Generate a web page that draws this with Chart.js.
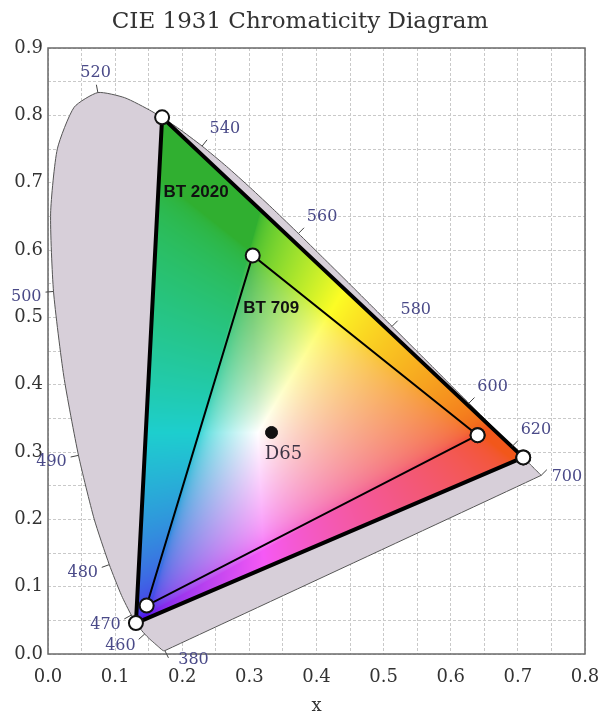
<!DOCTYPE html>
<html>
<head>
<meta charset="utf-8">
<script src="https://cdn.jsdelivr.net/npm/chart.js@4.4.1/dist/chart.umd.min.js"></script>
<style>
  html, body { margin: 0; padding: 0; background: #fff; }
  #wrap { width: 600px; height: 715px; }
</style>
</head>
<body>
<div id="wrap"><canvas id="myChart"></canvas></div>
<script>
// spectral locus, CIE 1931 (nm -> x, y)
const wavelengths = [380, 390, 400, 410, 420, 430, 440, 445, 450, 455, 460, 465, 470, 475, 480, 485, 490, 495, 500, 505, 510, 515, 520, 525, 530, 535, 540, 545, 550, 555, 560, 565, 570, 575, 580, 585, 590, 595, 600, 605, 610, 615, 620, 630, 640, 650, 660, 680, 700];
const locusX = [0.1741, 0.1738, 0.1733, 0.1726, 0.1714, 0.1689, 0.1644, 0.1611, 0.1566, 0.1510, 0.1440, 0.1355, 0.1241, 0.1096, 0.0913, 0.0687, 0.0454, 0.0235, 0.0082, 0.0039, 0.0139, 0.0389, 0.0743, 0.1142, 0.1547, 0.1929, 0.2296, 0.2658, 0.3016, 0.3373, 0.3731, 0.4087, 0.4441, 0.4788, 0.5125, 0.5448, 0.5752, 0.6029, 0.6270, 0.6482, 0.6658, 0.6801, 0.6915, 0.7079, 0.7190, 0.7260, 0.7300, 0.7334, 0.7347];
const locusY = [0.0050, 0.0049, 0.0048, 0.0048, 0.0051, 0.0069, 0.0109, 0.0138, 0.0177, 0.0227, 0.0297, 0.0399, 0.0578, 0.0868, 0.1327, 0.2007, 0.2950, 0.4127, 0.5384, 0.6548, 0.7502, 0.8120, 0.8338, 0.8262, 0.8059, 0.7816, 0.7543, 0.7243, 0.6923, 0.6589, 0.6245, 0.5896, 0.5547, 0.5202, 0.4866, 0.4544, 0.4242, 0.3965, 0.3725, 0.3514, 0.3340, 0.3197, 0.3083, 0.2920, 0.2809, 0.2740, 0.2700, 0.2666, 0.2653];
const labelledNm = [380, 460, 470, 480, 490, 500, 520, 540, 560, 580, 600, 620, 700];

// gamut triangles (R, G, B)
const bt2020X = [0.708, 0.170, 0.131];
const bt2020Y = [0.292, 0.797, 0.046];
const bt709X = [0.640, 0.305, 0.147];
const bt709Y = [0.325, 0.592, 0.072];
const d65 = { x: 0.333, y: 0.329 };

// text notes
const noteText = ['BT 2020', 'BT 709', 'D65'];
const noteX = [0.172, 0.291, 0.323];
const noteY = [0.685, 0.513, 0.297];

const serif = '"DejaVu Serif", serif';

function closed(xs, ys) {
  const pts = xs.map((v, i) => ({ x: v, y: ys[i] }));
  pts.push(pts[0]);
  return pts;
}

function xyToRgb(x, y) {
  const X = x / y, Z = (1 - x - y) / y;
  let r = Math.max(3.2406 * X - 1.5372 - 0.4986 * Z, 0);
  let g = Math.max(-0.9689 * X + 1.8758 + 0.0415 * Z, 0);
  let b = Math.max(0.0557 * X - 0.2040 + 1.0570 * Z, 0);
  const m = Math.max(r, g, b) || 1;
  const enc = c => c <= 0.0031308 ? 12.92 * c : 1.055 * Math.pow(c, 1 / 2.4) - 0.055;
  r = enc(r / m); g = enc(g / m); b = enc(b / m);
  // print-like look: reds lean orange, blues lean violet, greens/cyans duller
  g = g + 0.28 * r * (1 - g);
  r = r + 0.3 * b * (1 - r) * (1 - g);
  const gd = Math.max(0, g - Math.max(r, b));
  const f = (1 - 0.24 * gd) * (1 - 0.18 * (1 - r) * Math.min(g, b));
  r *= f; g *= f; b *= f;
  const lum = 0.3 * r + 0.59 * g + 0.11 * b;
  const ds = 0.1 + 0.2 * gd;
  return [r, g, b].map(c => {
    let v = c + (lum - c) * ds;
    v = v + (1 - v) * 0.06;
    return 255 * v;
  });
}

// colour fill of the BT 2020 triangle, drawn right after the grey locus
const gamutFill = {
  id: 'gamutFill',
  afterDatasetDraw(chart, args) {
    if (args.index !== 0) return;
    const xs = chart.scales.x, ys = chart.scales.y, a = chart.chartArea, ctx = chart.ctx;
    const w = Math.ceil(a.right - a.left), h = Math.ceil(a.bottom - a.top);
    const off = document.createElement('canvas');
    off.width = w; off.height = h;
    const octx = off.getContext('2d');
    const img = octx.createImageData(w, h);
    for (let py = 0; py < h; py++) {
      const y = ys.getValueForPixel(a.top + py + 0.5);
      if (y <= 0.002) continue;
      for (let px = 0; px < w; px++) {
        const x = xs.getValueForPixel(a.left + px + 0.5);
        const c = xyToRgb(x, y);
        const k = (py * w + px) * 4;
        img.data[k] = c[0]; img.data[k + 1] = c[1]; img.data[k + 2] = c[2]; img.data[k + 3] = 255;
      }
    }
    octx.putImageData(img, 0, 0);
    ctx.save();
    ctx.beginPath();
    bt2020X.forEach((v, i) => {
      const px = xs.getPixelForValue(v), py = ys.getPixelForValue(bt2020Y[i]);
      if (i === 0) ctx.moveTo(px, py); else ctx.lineTo(px, py);
    });
    ctx.closePath();
    ctx.clip();
    ctx.drawImage(off, a.left, a.top);
    ctx.restore();
  }
};

const frameBox = {
  id: 'frameBox',
  beforeDatasetsDraw(chart) {
    const a = chart.chartArea, ctx = chart.ctx;
    ctx.save();
    ctx.strokeStyle = '#6a6a6a';
    ctx.lineWidth = 1.5;
    ctx.strokeRect(a.left, a.top, a.right - a.left, a.bottom - a.top);
    ctx.restore();
  }
};

// wavelength ticks + labels, notes
const annotations = {
  id: 'annotations',
  afterDatasetsDraw(chart) {
    const xs = chart.scales.x, ys = chart.scales.y, ctx = chart.ctx;
    const n = wavelengths.length;
    const P = i => [xs.getPixelForValue(locusX[i]), ys.getPixelForValue(locusY[i])];
    ctx.save();
    ctx.font = '16px ' + serif;
    ctx.fillStyle = '#4a4a88';
    ctx.strokeStyle = '#444';
    ctx.lineWidth = 1;
    labelledNm.forEach(nm => {
      const i = wavelengths.indexOf(nm);
      const end = (i === 0 || i === n - 1);
      let a, b;
      if (i === 0) { a = P(0); b = P(4); }
      else if (i === n - 1) { a = P(n - 3); b = P(n - 1); }
      else { a = P(i - 1); b = P(i + 1); }
      let tx = b[0] - a[0], ty = b[1] - a[1];
      const len = Math.hypot(tx, ty) || 1;
      tx /= len; ty /= len;
      let nx = ty, ny = -tx;
      if (i === 0) { nx = 0.45; ny = 0.9; }
      const p = P(i);
      ctx.beginPath();
      ctx.moveTo(p[0], p[1]);
      ctx.lineTo(p[0] + nx * 8, p[1] + ny * 8);
      ctx.stroke();
      let lx = p[0] + nx * 12, ly = p[1] + ny * 12;
      let align = 'center', base = 'middle';
      if (end) { align = 'left'; }
      else {
        if (nx > 0.6) align = 'left'; else if (nx < -0.6) align = 'right';
        if (ny < -0.6) base = 'bottom'; else if (ny > 0.75) base = 'top';
      }
      if (base === 'middle') ly += 4;
      if (i === 0) { lx += 8; ly -= 6; }
      if (i === n - 1) { lx += 2; ly += 6; }
      ctx.textAlign = align;
      ctx.textBaseline = base;
      ctx.fillText(String(nm), lx, ly);
    });

    ctx.textAlign = 'left';
    ctx.textBaseline = 'middle';
    noteText.forEach((t, i) => {
      ctx.font = (t === 'D65') ? '18px ' + serif : 'bold 17px "Liberation Sans", Arial, sans-serif';
      ctx.fillStyle = (t === 'D65') ? '#3b3344' : '#111';
      ctx.fillText(t, xs.getPixelForValue(noteX[i]), ys.getPixelForValue(noteY[i]));
    });
    ctx.restore();
  }
};

const tickFmt = v => (Math.round(v * 100) % 10 === 0 ? v.toFixed(1) : '');

const config = {
  type: 'scatter',
  data: {
    datasets: [{
      label: 'Spectral locus',
      data: closed(locusX, locusY),
      showLine: true,
      fill: 'shape',
      backgroundColor: '#d7cfd9',
      borderColor: '#555',
      borderWidth: 1,
      pointRadius: 0,
      tension: 0.2,
      order: 3
    }, {
      label: 'BT 2020',
      data: closed(bt2020X, bt2020Y),
      showLine: true,
      borderColor: '#000',
      borderWidth: 4,
      pointRadius: 7,
      pointBackgroundColor: '#fff',
      pointBorderColor: '#111',
      pointBorderWidth: 2,
      order: 2
    }, {
      label: 'BT 709',
      data: closed(bt709X, bt709Y),
      showLine: true,
      borderColor: '#000',
      borderWidth: 2,
      pointRadius: 7,
      pointBackgroundColor: '#fff',
      pointBorderColor: '#111',
      pointBorderWidth: 2,
      order: 1
    }, {
      label: 'D65',
      data: [d65],
      pointRadius: 6,
      pointBackgroundColor: '#111',
      pointBorderColor: '#111',
      order: 0
    }]
  },
  options: {
    responsive: true,
    maintainAspectRatio: false,
    animation: false,
    layout: { padding: { left: 0, right: 0, top: 0, bottom: 0 } },
    plugins: {
      legend: { display: false },
      tooltip: { enabled: false },
      title: {
        display: true,
        text: 'CIE 1931 Chromaticity Diagram',
        color: '#333',
        font: { family: serif, size: 23, weight: 'normal' },
        padding: { top: 8, bottom: 12.4 }
      }
    },
    scales: {
      x: {
        type: 'linear',
        min: 0, max: 0.8,
        afterFit: s => { s.height = 61; s.paddingRight = 15; s.paddingLeft = 0; },
        ticks: { stepSize: 0.05, autoSkip: false, maxRotation: 0, padding: 13, color: '#333', font: { family: serif, size: 18 }, callback: tickFmt },
        grid: { color: '#c9c9c9', lineWidth: 1, drawTicks: false },
        border: { display: false, dash: [3, 2] },
        title: { display: true, text: 'x', color: '#333', font: { family: serif, size: 18 }, padding: { top: 0, bottom: -2 } }
      },
      y: {
        type: 'linear',
        min: 0, max: 0.9,
        afterFit: s => { s.width = 48; },
        ticks: { stepSize: 0.05, autoSkip: false, padding: 5, color: '#333', font: { family: serif, size: 18 }, callback: tickFmt },
        grid: { color: '#c9c9c9', lineWidth: 1, drawTicks: false },
        border: { display: false, dash: [3, 2] }
      }
    }
  },
  plugins: [frameBox, gamutFill, annotations]
};

const myChart = new Chart(document.getElementById('myChart'), config);
</script>
</body>
</html>
